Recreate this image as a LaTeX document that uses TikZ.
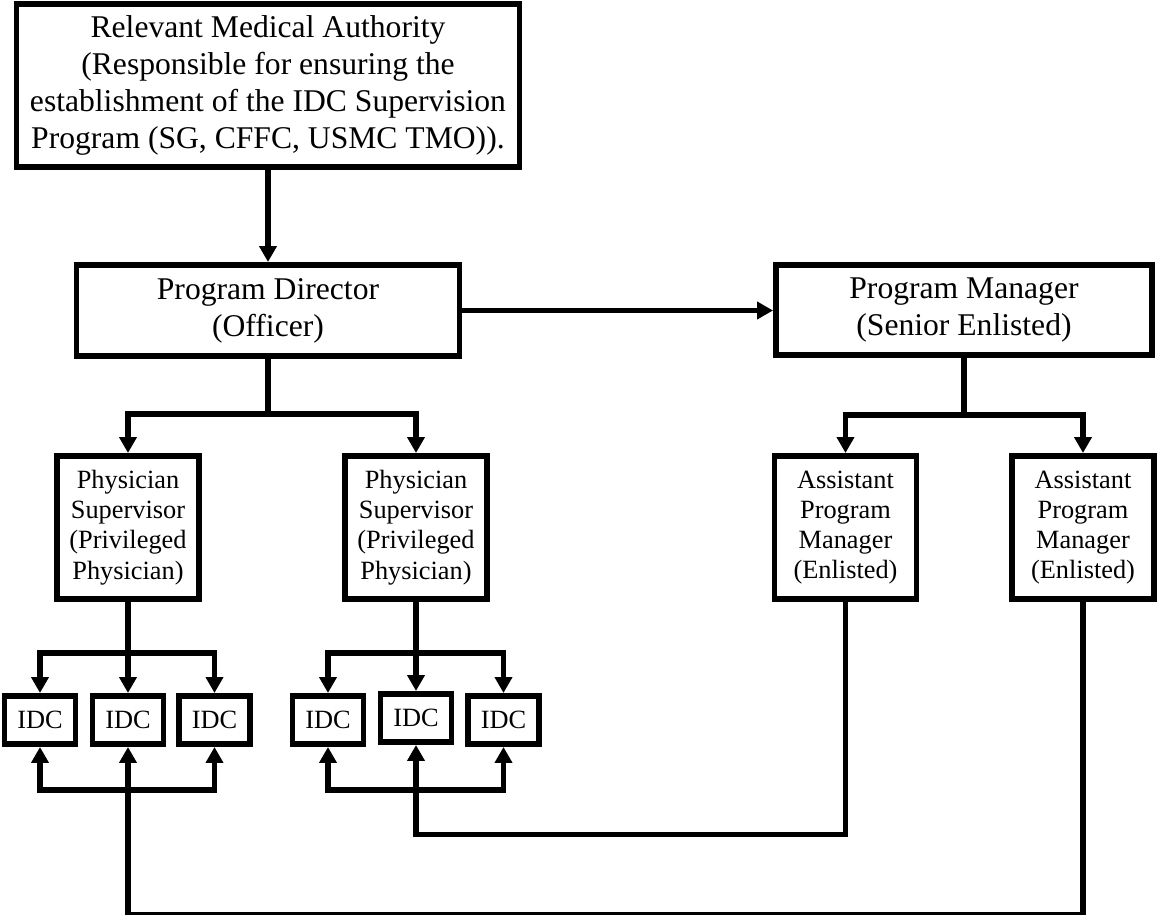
\documentclass[tikz,border=0pt]{standalone}
\usepackage{fontspec}
\setmainfont{Liberation Serif}
\usetikzlibrary{arrows.meta}

\tikzset{
  box/.style={draw, line width=0.11cm, align=center, inner sep=0pt},
  bigbox/.style={box, font=\fontsize{18}{21}\selectfont},
  smallbox/.style={box, font=\fontsize{15}{17.2}\selectfont, minimum width=2.85cm, minimum height=2.87cm},
  idcbox/.style={box, font=\fontsize{15}{17.2}\selectfont, minimum width=1.43cm, minimum height=0.97cm},
  link/.style={line width=0.11cm},
  arr/.style={link, -{Triangle[length=0.32cm,width=0.34cm]}},
}

\begin{document}
\begin{tikzpicture}[x=0.02cm, y=-0.02cm]
  \useasboundingbox (0,0) rectangle (1157,915);

  % top levels
  \node[bigbox, minimum width=10.07cm, minimum height=3.27cm] (rma) at (268,85.5)
    {Relevant Medical Authority\\ (Responsible for ensuring the\\ establishment of the IDC Supervision\\ Program (SG, CFFC, USMC TMO)).};
  \node[bigbox, minimum width=7.67cm, minimum height=1.83cm] (pd) at (268,310.5) {Program Director\\(Officer)};
  \node[bigbox, minimum width=7.53cm, minimum height=1.81cm] (pm) at (964,310) {Program Manager\\ (Senior Enlisted)};

  % supervisors and assistants
  \node[smallbox] (ps1) at (128,527.5) {Physician\\Supervisor\\ (Privileged\\Physician)};
  \node[smallbox] (ps2) at (416,527.5) {Physician\\Supervisor\\ (Privileged\\Physician)};
  \node[smallbox] (apm1) at (845.5,527.5) {Assistant\\Program\\Manager\\(Enlisted)};
  \node[smallbox] (apm2) at (1083,527.5) {Assistant\\Program\\Manager\\(Enlisted)};

  % IDCs
  \node[idcbox] (idc11) at (40,720) {IDC};
  \node[idcbox] (idc12) at (128,720) {IDC};
  \node[idcbox] (idc13) at (214.5,720) {IDC};
  \node[idcbox] (idc21) at (328,720) {IDC};
  \node[idcbox] (idc22) at (416,718) {IDC};
  \node[idcbox] (idc23) at (503.5,720) {IDC};

  % connectors
  \draw[arr] (rma.south) -- (pd.north);
  \draw[arr] (pd.east) -- (pd.east -| pm.west);

  \draw[arr] (pd.south) -- ++(0,55) -| (ps1.north);
  \draw[arr] (pd.south) -- ++(0,55) -| (ps2.north);
  \draw[arr] (pm.south) -- ++(0,57) -| (apm1.north);
  \draw[arr] (pm.south) -- ++(0,57) -| (apm2.north);

  \draw[arr] (ps1.south) -- ++(0,51) -| (idc11.north);
  \draw[arr] (ps1.south) -- (idc12.north);
  \draw[arr] (ps1.south) -- ++(0,51) -| (idc13.north);
  \draw[arr] (ps2.south) -- ++(0,51) -| (idc21.north);
  \draw[arr] (ps2.south) -- (idc22.north);
  \draw[arr] (ps2.south) -- ++(0,51) -| (idc23.north);

  % back up from the assistants
  \coordinate (join1) at (128,790);
  \coordinate (join2) at (416,790);
  \draw[arr] (apm2.south) -- ++(0,312.75) -| (idc12.south);
  \draw[arr] (join1) -| (idc11.south);
  \draw[arr] (join1) -| (idc13.south);
  \draw[arr] (apm1.south) -- ++(0,232.75) -| (idc22.south);
  \draw[arr] (join2) -| (idc21.south);
  \draw[arr] (join2) -| (idc23.south);
\end{tikzpicture}
\end{document}
